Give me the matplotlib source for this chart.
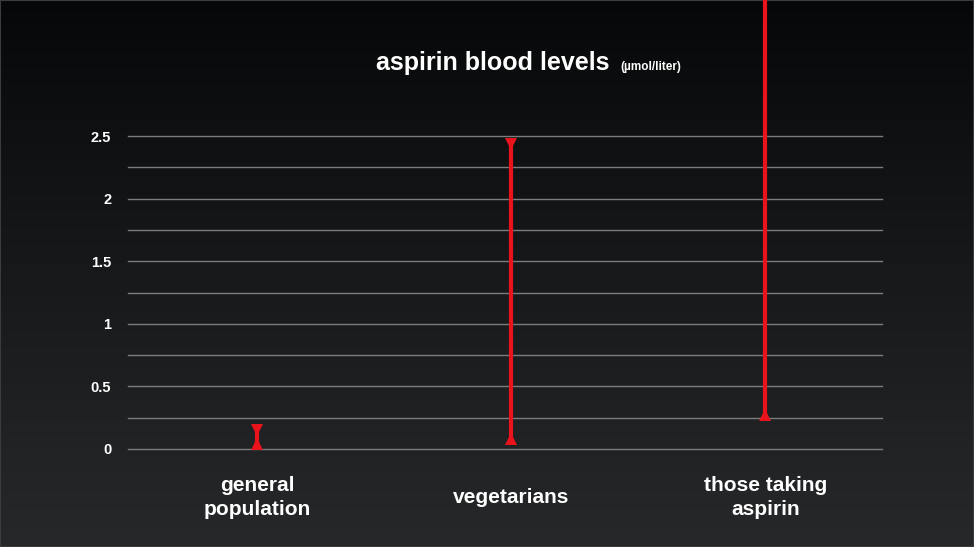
import numpy as np
import matplotlib
matplotlib.use("Agg")
import matplotlib.pyplot as plt
from matplotlib.patches import Rectangle

categories = ["general\npopulation", "vegetarians", "those taking\naspirin"]
low_values = [0.02, 0.06, 0.25]
high_values = [0.17, 2.46, 4.0]
major_ticks = [0, 0.5, 1, 1.5, 2, 2.5]
tick_labels = ["0", "0.5", "1", "1.5", "2", "2.5"]
minor_ticks = [0.25, 0.75, 1.25, 1.75, 2.25]

FONT = ["Liberation Sans", "DejaVu Sans"]
plt.rcParams['font.family'] = FONT

fig = plt.figure(figsize=(9.74, 5.47), dpi=100)

# gradient background
bg = fig.add_axes([0, 0, 1, 1], zorder=-10)
grad = np.linspace(0, 1, 256).reshape(-1, 1)
top = np.array([6, 7, 8]) / 255
bot = np.array([38, 40, 42]) / 255
img = top + (bot - top) * grad[:, :, None] ** 0.9
bg.imshow(img, aspect='auto', extent=[0, 1, 0, 1], origin='upper')
bg.set_axis_off()
bg.add_patch(Rectangle((0, 0), 1, 1, transform=bg.transAxes, fill=False,
                       edgecolor='#3a3c3e', lw=1.5))

ax = fig.add_axes([128/974, 1 - 449/547, (882-128)/974, (449-136)/547])
ax.set_facecolor('none')
ax.set_xlim(-0.51, 2.46)
ax.set_ylim(0, 2.5)
for s in ax.spines.values():
    s.set_visible(False)

for y in major_ticks + minor_ticks:
    ax.axhline(y, color='#7c7c7c', lw=1.0, zorder=1, clip_on=False)

ax.set_yticks(major_ticks)
ax.set_yticklabels(tick_labels)
ax.tick_params(axis='y', length=0, pad=12, labelcolor='white', labelsize=10.5)
for t in ax.get_yticklabels():
    t.set_fontweight('bold')
ax.set_xticks([])

red = '#e8131b'
x = np.arange(len(categories))
for xi, lo, hi in zip(x, low_values, high_values):
    ax.plot([xi, xi], [lo, hi], color=red, lw=3, zorder=3, clip_on=False,
            solid_capstyle='butt')
    ax.plot([xi], [lo + 0.02], marker='^', color=red, markersize=8,
            zorder=3, clip_on=False, markeredgewidth=0)
    if hi <= 2.5:
        ax.plot([xi], [hi - 0.02], marker='v', color=red, markersize=8,
                zorder=3, clip_on=False, markeredgewidth=0)

for xi, lab in zip(x, categories):
    ax.annotate(lab, xy=(xi, 0), xycoords=('data', 'axes fraction'),
                xytext=(0, -35), textcoords='offset points',
                ha='center', va='center', color='white', fontsize=15,
                fontweight='bold', linespacing=1.35)

fig.text(610/974, 1 - 70/547, "aspirin blood levels", color='white',
         fontsize=18, fontweight='bold', ha='right', va='baseline')
fig.text(620/974, 1 - 70/547, "(µmol/liter)", color='white',
         fontsize=8.5, fontweight='bold', ha='left', va='baseline')

fig.savefig("out.png", dpi=100)
